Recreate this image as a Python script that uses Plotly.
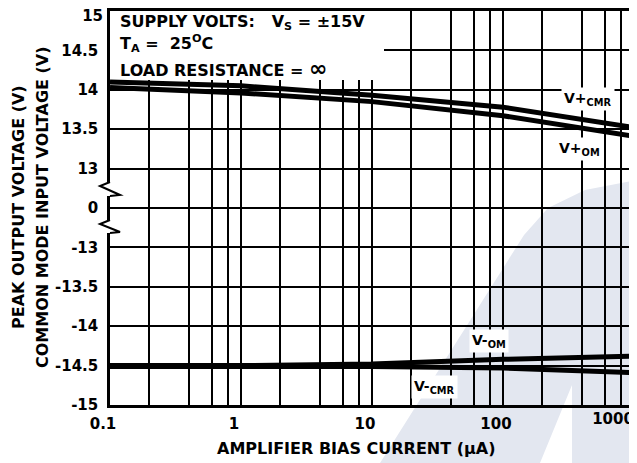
import plotly.graph_objects as go

# ---------------- data ----------------
bias_current = [0.1, 1, 10, 100, 1000]          # µA
v_plus_cmr = [14.10, 14.05, 13.93, 13.78, 13.52]
v_plus_om = [14.03, 13.96, 13.85, 13.67, 13.41]
v_minus_om = [-14.50, -14.50, -14.48, -14.42, -14.38]
v_minus_cmr = [-14.51, -14.51, -14.51, -14.53, -14.59]

y_tick_labels = ["-15", "-14.5", "-14", "-13.5", "-13", "0", "13", "13.5", "14", "14.5"]
y_top_label = ["15"]
x_major = [0.1, 1, 10, 100]
x_major_labels = ["0.1", "1", "10", "100"]
x_last = [1000]
x_last_labels = ["1000"]
x_minor = [0.2, 0.4, 0.6, 0.8, 2, 4, 6, 8, 20, 40, 60, 80, 200, 400, 600, 800]


# broken y axis: 13..15 and -15..-13 sections, with 0 in between
def to_pos(v):
    if v > 0:
        return 6 + (v - 13) * 2
    if v < 0:
        return 4 + (v + 13) * 2
    return 5


FONT = "DejaVu Sans"
# page body has an 8px margin: size the figure so the plot lands where the reference has it
OFF = 8
W, H = 637 - OFF, 463 - OFF
PL, PR, PT, PB = 110, 634, 11, 405          # plot area in window pixels
L, T = PL - OFF, PT - OFF
R = W - (PR - OFF)
B = H - (PB - OFF)
PW, PH = PR - PL, PB - PT


def px(x):
    return (x - PL) / PW


def py(y):
    return (PB - y) / PH


fig = go.Figure()
for vals in (v_plus_cmr, v_plus_om, v_minus_om, v_minus_cmr):
    fig.add_trace(go.Scatter(
        x=bias_current, y=[to_pos(v) for v in vals], mode="lines",
        line=dict(color="black", width=5), hoverinfo="skip", showlegend=False))
# carrier for the secondary axes (edge tick labels)
fig.add_trace(go.Scatter(x=[], y=[], xaxis="x2", yaxis="y2", showlegend=False, hoverinfo="skip"))

tickfont = dict(family=FONT, size=15, color="black", weight="bold")

fig.update_layout(
    width=W, height=H, template="none",
    margin=dict(l=L, r=R, t=T, b=B, pad=0),
    paper_bgcolor="white", plot_bgcolor="rgba(0,0,0,0)",
    showlegend=False,
    xaxis=dict(
        type="log", range=[-1, 3], tickmode="array", tickvals=x_major, ticktext=x_major_labels,
        ticks="", ticklabelshift=-7, ticklabelstandoff=3, tickfont=tickfont,
        showgrid=True, gridcolor="black", gridwidth=2,
        minor=dict(tickmode="array", tickvals=x_minor, showgrid=True, gridcolor="black", gridwidth=2, ticks=""),
        showline=True, linecolor="black", linewidth=2.5, mirror=True, zeroline=False, automargin=False,
    ),
    xaxis2=dict(
        type="log", range=[-1, 3], overlaying="x", anchor="y", side="bottom",
        tickmode="array", tickvals=x_last, ticktext=x_last_labels,
        ticks="", ticklabelshift=-21, ticklabelstandoff=3, tickfont=tickfont,
        ticklabeloverflow="allow", showgrid=False, showline=False, zeroline=False, automargin=False,
    ),
    yaxis=dict(
        range=[0, 10], tickmode="array", tickvals=list(range(10)), ticktext=y_tick_labels,
        ticks="", ticklabelstandoff=6, tickfont=tickfont, ticklabeloverflow="allow",
        showgrid=True, gridcolor="black", gridwidth=2,
        showline=True, linecolor="black", linewidth=2.5, mirror=True, zeroline=False, automargin=False,
    ),
    yaxis2=dict(
        range=[0, 10], overlaying="y", anchor="x", side="left",
        tickmode="array", tickvals=[10], ticktext=y_top_label,
        ticks="", ticklabelstandoff=6, ticklabelshift=5, tickfont=tickfont, ticklabeloverflow="allow",
        showgrid=False, showline=False, zeroline=False, automargin=False,
    ),
)

shapes = []
# faint watermark logo
wm = [(380, 463), (524, 235), (548, 208), (585, 190), (637, 180), (637, 463), (572, 463), (572, 385), (540, 463)]
path = "M " + " L ".join(f"{px(x):.4f},{py(y):.4f}" for x, y in wm) + " Z"
shapes.append(dict(type="path", path=path, xref="paper", yref="paper", fillcolor="#e3e7f0",
                   line=dict(width=0), layer="below"))
# white panel behind the condition text (above grid, below curves)
x_panel_end = 10 ** (-1 + 4 * px(384))
shapes.append(dict(type="rect", xref="x", yref="y", x0=0.1, x1=x_panel_end, y0=10 * py(80), y1=10,
                   fillcolor="white", line=dict(width=0), layer="between"))
# axis break marks
for (ya, yb) in ((182, 196), (220, 233)):
    shapes.append(dict(type="rect", xref="paper", yref="paper", x0=px(107), x1=px(113), y0=py(yb), y1=py(ya),
                       fillcolor="white", line=dict(width=0), layer="above"))
    zz = [(110, ya), (100, ya + 4), (120, yb - 1), (110, yb)]
    p = "M " + " L ".join(f"{px(x):.4f},{py(y):.4f}" for x, y in zz)
    shapes.append(dict(type="path", path=p, xref="paper", yref="paper",
                       line=dict(color="black", width=2), layer="above"))
fig.update_layout(shapes=shapes)

bold16 = dict(family=FONT, size=16, color="black", weight="bold")
NB = "\u00a0"
ann = []
# condition text
ann.append(dict(text=f"SUPPLY VOLTS:{NB*3}V<sub>S</sub> = ±15V", x=px(118), y=py(22)))
ann.append(dict(text=f"T<sub>A</sub> ={NB*2}25<sup>O</sup>C", x=px(118), y=py(43)))
ann.append(dict(text="LOAD RESISTANCE = <span style='font-size:22px'>∞</span>", x=px(118), y=py(68)))
for a in ann:
    a.update(xref="paper", yref="paper", xanchor="left", yanchor="middle", showarrow=False, font=bold16)
# axis titles
ann.append(dict(text="AMPLIFIER BIAS CURRENT (µA)", x=px(356), y=py(448), xref="paper", yref="paper",
                showarrow=False, font=bold16, xanchor="center", yanchor="middle"))
ann.append(dict(text="PEAK OUTPUT VOLTAGE (V)", x=px(18), y=py(207), xref="paper", yref="paper",
                showarrow=False, font=bold16, textangle=-90, xanchor="center", yanchor="middle"))
ann.append(dict(text="COMMON MODE INPUT VOLTAGE (V)", x=px(42), y=py(207), xref="paper", yref="paper",
                showarrow=False, font=bold16, textangle=-90, xanchor="center", yanchor="middle"))
# curve labels
lab_font = dict(family=FONT, size=14, color="black", weight="bold")
for txt, cx, cy in (("V+<sub>CMR</sub>", 588, 99), ("V+<sub>OM</sub>", 579, 149),
                    ("V-<sub>OM</sub>", 489, 341), ("V-<sub>CMR</sub>", 434, 387)):
    ann.append(dict(text=txt, x=px(cx), y=py(cy), xref="paper", yref="paper", showarrow=False,
                    font=lab_font, bgcolor="white", borderpad=2, xanchor="center", yanchor="middle"))
fig.update_layout(annotations=ann)

fig.write_html("out.html")
